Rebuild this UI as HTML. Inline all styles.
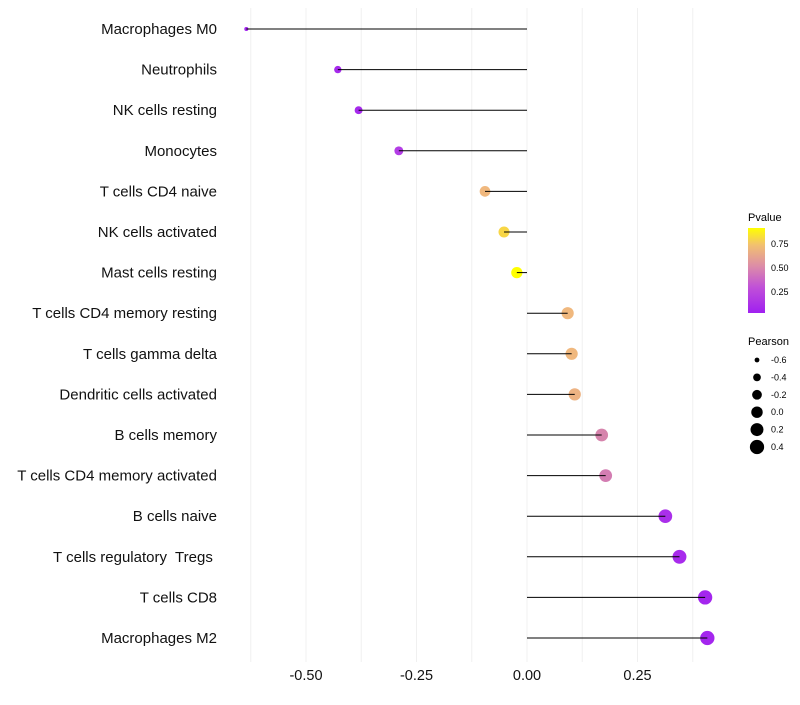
<!DOCTYPE html>
<html><head><meta charset="utf-8"><style>
body{margin:0;background:#fff;font-family:"Liberation Sans",sans-serif}
svg text{font-family:"Liberation Sans",sans-serif;white-space:pre}
</style></head><body>
<svg width="800" height="700" id="chart">
<defs><linearGradient id="pg" x1="0" y1="1" x2="0" y2="0">
<stop offset="0" stop-color="#a020f0"/><stop offset="0.3" stop-color="#c050d8"/><stop offset="0.55" stop-color="#dc8ca8"/><stop offset="0.8" stop-color="#f2c070"/><stop offset="1" stop-color="#ffff00"/></linearGradient></defs>
<g id="grid"></g><g id="marks"></g><g id="labels"></g>
<g>
<text x="748" y="221" font-size="11">Pvalue</text>
<rect x="748" y="228" width="17" height="85" fill="url(#pg)"/>
<text x="771" y="247" font-size="9">0.75</text><text x="771" y="271" font-size="9">0.50</text><text x="771" y="295" font-size="9">0.25</text>
</g>
<g id="sizeleg">
<text x="748" y="345" font-size="11">Pearson</text>
</g>
</svg>
<script>
const categories=["Macrophages M0","Neutrophils","NK cells resting","Monocytes","T cells CD4 naive","NK cells activated","Mast cells resting","T cells CD4 memory resting","T cells gamma delta","Dendritic cells activated","B cells memory","T cells CD4 memory activated","B cells naive","T cells regulatory  Tregs ","T cells CD8","Macrophages M2"];
const pearson=[-0.635,-0.428,-0.381,-0.29,-0.095,-0.052,-0.023,0.092,0.101,0.108,0.169,0.178,0.313,0.345,0.403,0.408];
const pvalues=[0.02,0.05,0.05,0.15,0.65,0.82,0.92,0.65,0.65,0.63,0.45,0.42,0.08,0.06,0.03,0.03];
const xTicks=[-0.5,-0.25,0,0.25];
const xTickLabels=["-0.50","-0.25","0.00","0.25"];
const sizeLegend=[-0.6,-0.4,-0.2,0.0,0.2,0.4];
const sizeLegendLabels=["-0.6","-0.4","-0.2","0.0","0.2","0.4"];
const NS="http://www.w3.org/2000/svg";
const x=v=>527+v*442;
const y=i=>29+i*40.6;
const r=v=>Math.sqrt(Math.max(1,4+45*(v+0.64)));
const stops=[[0,[160,32,240]],[0.2,[185,70,225]],[0.45,[214,132,172]],[0.65,[240,184,126]],[0.82,[248,214,70]],[0.92,[255,255,0]]];
function col(p){if(p<=stops[0][0])return`rgb(${stops[0][1]})`;for(let k=1;k<stops.length;k++){if(p<=stops[k][0]){const t=(p-stops[k-1][0])/(stops[k][0]-stops[k-1][0]);const a=stops[k-1][1],b=stops[k][1];return`rgb(${a.map((c,j)=>Math.round(c+(b[j]-c)*t))})`;}}return"rgb(255,255,0)";}
function mk(t,a,parent){const e=document.createElementNS(NS,t);for(const k in a)e.setAttribute(k,a[k]);parent.appendChild(e);return e;}
const grid=document.getElementById('grid'),marks=document.getElementById('marks'),labels=document.getElementById('labels');
for(let v=-0.625;v<=0.4;v+=0.125){const l=mk('line',{x1:x(v),x2:x(v),y1:8,y2:662,stroke:'#f0f0f0','stroke-width':1},grid);

}
xTicks.forEach((v,i)=>{const t=mk('text',{x:x(v),y:680,'font-size':14.5,'text-anchor':'middle',fill:'#111'},labels);t.textContent=xTickLabels[i];

});
categories.forEach((c,i)=>{
const t=mk('text',{x:217,y:y(i)+5,'font-size':15,'text-anchor':'end',fill:'#111'},labels);t.textContent=c;


const p=mk('circle',{cx:x(pearson[i]),cy:y(i),r:r(pearson[i]),fill:col(pvalues[i])},marks);


const s=mk('line',{x1:x(0),x2:x(pearson[i]),y1:y(i),y2:y(i),stroke:'#000','stroke-width':1},marks);


});
const sl=document.getElementById('sizeleg');
sizeLegend.forEach((v,i)=>{const yy=360+i*17.4;
const c=mk('circle',{cx:757,cy:yy,r:r(v),fill:'#000'},sl);


const t=mk('text',{x:771,y:yy+3,'font-size':9},sl);t.textContent=sizeLegendLabels[i];

});
</script>
</body></html>
